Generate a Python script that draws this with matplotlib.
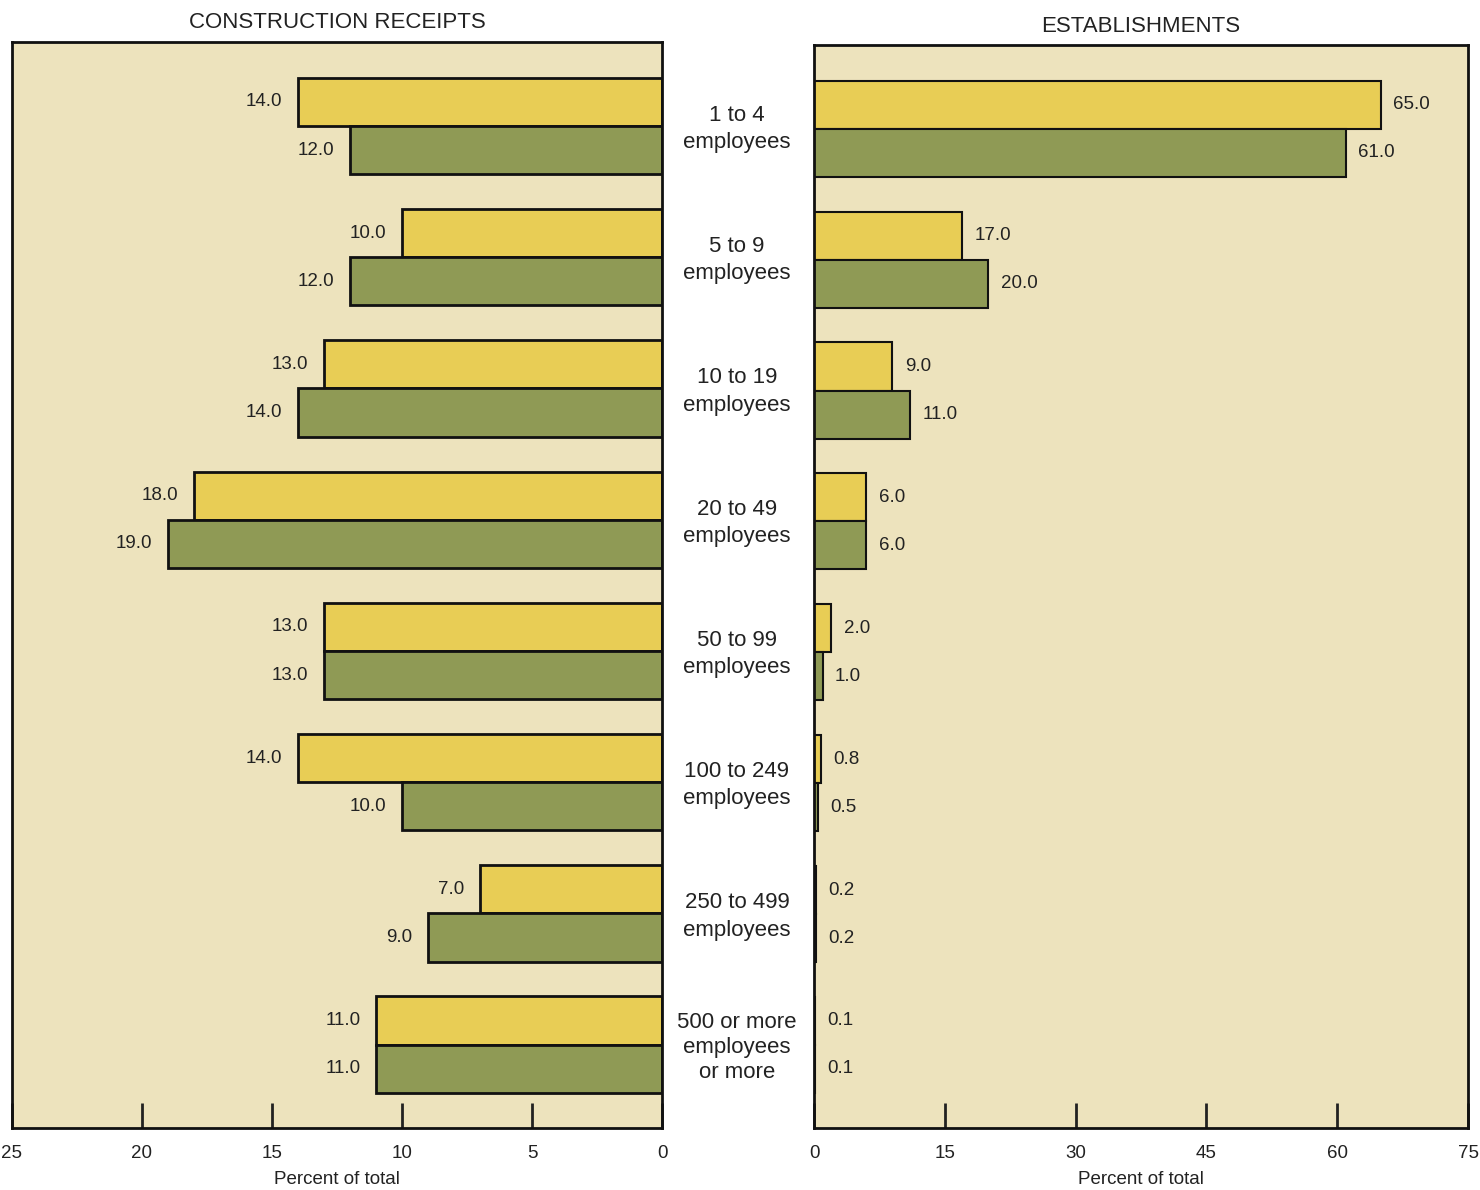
import matplotlib
matplotlib.use("Agg")
import matplotlib.pyplot as plt
import numpy as np

plt.rcParams['font.family'] = ['Liberation Sans', 'DejaVu Sans']

categories = ["1 to 4\nemployees", "5 to 9\nemployees", "10 to 19\nemployees",
              "20 to 49\nemployees", "50 to 99\nemployees", "100 to 249\nemployees",
              "250 to 499\nemployees", "500 or more\nemployees\nor more"]
receipts_yellow = [14.0, 10.0, 13.0, 18.0, 13.0, 14.0, 7.0, 11.0]
receipts_green = [12.0, 12.0, 14.0, 19.0, 13.0, 10.0, 9.0, 11.0]
estab_yellow = [65.0, 17.0, 9.0, 6.0, 2.0, 0.8, 0.2, 0.1]
estab_green = [61.0, 20.0, 11.0, 6.0, 1.0, 0.5, 0.2, 0.1]
left_ticks = [25, 20, 15, 10, 5, 0]
right_ticks = [0, 15, 30, 45, 60, 75]

BG = "#EDE3BD"
YEL = "#E8CD55"
GRN = "#8F9A55"
TXT = "#222222"

fig = plt.figure(figsize=(14.8, 11.9), dpi=100)
axL = fig.add_axes([12/1480, 1-1128/1190, 650/1480, (1128-42)/1190])
axR = fig.add_axes([814/1480, 1-1128/1190, 654/1480, (1128-45)/1190])

y = np.arange(len(categories))
h = 0.367

def style(ax, xlim, ticks, title, pad):
    ax.set_facecolor(BG)
    ax.set_xlim(*xlim)
    ax.set_ylim(7.635, -0.64)
    ax.set_yticks([])
    ax.set_xticks(ticks)
    ax.set_xticklabels([str(t) for t in ticks], fontsize=13.5)
    ax.tick_params(axis='x', direction='in', length=18, width=2, pad=12, colors=TXT)
    for s in ax.spines.values():
        s.set_linewidth(2)
        s.set_color('#111111')
    ax.set_xlabel("Percent of total", fontsize=13.5, labelpad=7, color=TXT)
    ax.set_title(title, fontsize=16, pad=pad, color=TXT)

style(axL, (25, 0), left_ticks, "CONSTRUCTION RECEIPTS", 10)
style(axR, (0, 75), right_ticks, "ESTABLISHMENTS", 9)

axL.barh(y - h/2, receipts_yellow, height=h, color=YEL, edgecolor='#111111', linewidth=2)
axL.barh(y + h/2, receipts_green, height=h, color=GRN, edgecolor='#111111', linewidth=2)
axR.barh(y - h/2, estab_yellow, height=h, color=YEL, edgecolor='#111111', linewidth=1.5)
axR.barh(y + h/2, estab_green, height=h, color=GRN, edgecolor='#111111', linewidth=1.5)

for i in range(len(categories)):
    axL.text(receipts_yellow[i] + 0.6, y[i] - h/2, f"{receipts_yellow[i]:.1f}", ha='right', va='center', fontsize=13.5, color=TXT)
    axL.text(receipts_green[i] + 0.6, y[i] + h/2, f"{receipts_green[i]:.1f}", ha='right', va='center', fontsize=13.5, color=TXT)
    axR.text(estab_yellow[i] + 1.4, y[i] - h/2, f"{estab_yellow[i]:.1f}", ha='left', va='center', fontsize=13.5, color=TXT)
    axR.text(estab_green[i] + 1.4, y[i] + h/2, f"{estab_green[i]:.1f}", ha='left', va='center', fontsize=13.5, color=TXT)

# center category labels
for i, c in enumerate(categories):
    yd = axL.transData.transform((0, y[i]))[1] - 3
    yf = fig.transFigure.inverted().transform((0, yd))[1]
    ls = 1.4 if c.count("\n") == 1 else 1.25
    fig.text(737/1480, yf, c, ha='center', va='center', fontsize=16, color=TXT, linespacing=ls)

fig.savefig("out.png", dpi=100, facecolor='white')
